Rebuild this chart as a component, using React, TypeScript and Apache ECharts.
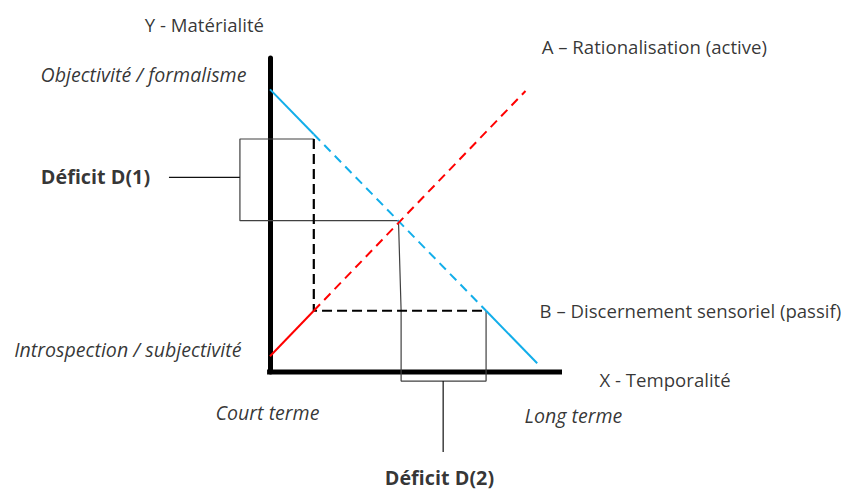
import React, { useEffect, useRef } from "react";
import * as echarts from "echarts";

// Conceptual coordinates: X = temporality (0..10), Y = materiality (0..10)
const xAxisLine = [[-0.1, 0], [10, 0]];
const blueSolidTop = [[0, 9.0], [1.5, 7.57]];
const blueDashed = [[1.5, 7.57], [7.4, 1.95]];
const blueSolidBottom = [[7.4, 1.95], [9.15, 0.28]];
const redSolid = [[0, 0.5], [1.5, 1.95]];
const redDashed = [[1.5, 1.95], [8.75, 8.95]];
const blackDashed = [[1.5, 7.42], [1.5, 1.95], [7.4, 1.95]];
const deficitBrackets = [
  [1.5, 7.42], [-1.03, 7.42], [-1.03, 4.82], [4.4, 4.82],
  [4.49, 1.95], [4.49, -0.29], [7.4, -0.29], [7.4, 1.95],
];
const deficit1Stem = [[-1.03, 6.2], [-3.46, 6.2]];
const deficit2Stem = [[5.93, -0.29], [5.93, -2.55]];

const labelTexts = [
  "Y - Matérialité",
  "Objectivité / formalisme",
  "A – Rationalisation (active)",
  "Déficit D(1)",
  "B – Discernement sensoriel (passif)",
  "Introspection / subjectivité",
  "X - Temporalité",
  "Court terme",
  "Long terme",
  "Déficit D(2)",
];
const labelAnchors = [
  [-2.23, 11.05],
  [-0.79, 9.46],
  [9.32, 10.35],
  [-5.96, 6.2],
  [9.25, 1.94],
  [-0.96, 0.7],
  [11.3, -0.25],
  [-0.07, -1.31],
  [10.41, -1.4],
  [5.82, -3.38],
];
const labelAligns = ["center", "right", "left", "center", "left", "right", "left", "center", "center", "center"];
const labelStyles = ["normal", "italic", "normal", "normal", "normal", "italic", "normal", "italic", "italic", "normal"];
const labelWeights = ["normal", "normal", "normal", "bold", "normal", "normal", "normal", "normal", "normal", "bold"];

const BLUE = "#12AEEA";
const RED = "#FF0000";
const FONT = "Open Sans";

function lineSeries(data: number[][], color: string, width: number, type: any) {
  return {
    type: "line",
    data,
    symbol: "none",
    clip: false,
    silent: true,
    lineStyle: { color, width, type },
  };
}

export default function App() {
  const ref = useRef<HTMLDivElement>(null);
  useEffect(() => {
    if (!ref.current) return;
    const chart = echarts.init(ref.current, undefined, { renderer: "svg" });
    const textData = labelTexts.map((t, i) => ({
      value: labelAnchors[i],
      label: {
        show: true,
        formatter: t,
        position: [0, 0],
        align: labelAligns[i],
        verticalAlign: "middle",
        fontStyle: labelStyles[i],
        fontWeight: labelWeights[i],
        fontSize: labelWeights[i] === "bold" ? 19.8 : labelStyles[i] === "italic" ? 19.6 : 18.6,
      },
    }));
    chart.setOption({
      animation: false,
      backgroundColor: "#ffffff",
      grid: { left: 153.2, top: 58, width: 408.8, height: 314 },
      xAxis: {
        type: "value",
        min: -4,
        max: 10,
        axisLine: { show: false },
        axisTick: { show: false },
        axisLabel: { show: false },
        splitLine: { show: false },
      },
      yAxis: {
        type: "value",
        min: 0,
        max: 10,
        axisLine: { show: true, onZero: true, lineStyle: { color: "#000", width: 5 } },
        axisTick: { show: false },
        axisLabel: { show: false },
        splitLine: { show: false },
      },
      series: [
        lineSeries(xAxisLine, "#000", 5, "solid"),
        lineSeries(deficitBrackets, "#404040", 1.2, "solid"),
        lineSeries(deficit1Stem, "#111", 1.2, "solid"),
        lineSeries(deficit2Stem, "#111", 1.2, "solid"),
        lineSeries(blackDashed, "#000", 2.2, [10, 5]),
        lineSeries(blueSolidTop, BLUE, 2, "solid"),
        lineSeries(blueDashed, BLUE, 2, [9, 6]),
        lineSeries(blueSolidBottom, BLUE, 2, "solid"),
        lineSeries(redSolid, RED, 2, "solid"),
        lineSeries(redDashed, RED, 2, [9, 6]),
        {
          type: "scatter",
          data: textData,
          symbolSize: 1,
          silent: true,
          clip: false,
          itemStyle: { color: "transparent" },
          label: {
            show: true,
            color: "#000",
            fontFamily: FONT,
          },
        },
      ],
    });
    return () => chart.dispose();
  }, []);
  return (
    <div
      ref={ref}
      style={{ position: "fixed", left: 0, top: 0, width: 845, height: 495 }}
    />
  );
}
